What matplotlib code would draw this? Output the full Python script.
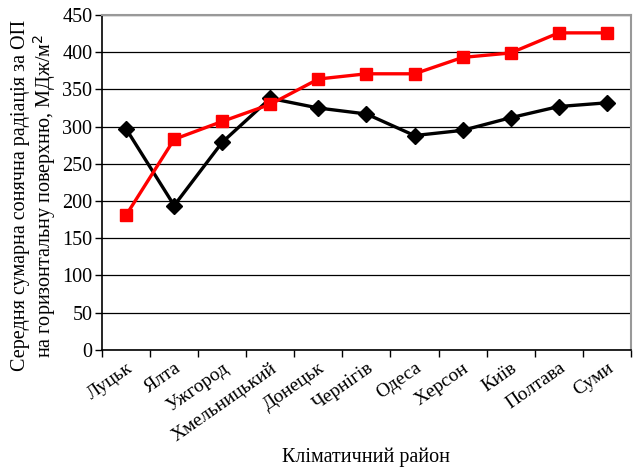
import matplotlib
matplotlib.use("Agg")
import matplotlib.pyplot as plt
import numpy as np

plt.rcParams['font.family'] = ['Liberation Serif', 'DejaVu Serif']

cities = ['Луцьк', 'Ялта', 'Ужгород', 'Хмельницький', 'Донецьк', 'Чернігів',
          'Одеса', 'Херсон', 'Київ', 'Полтава', 'Суми']
black_vals = [297, 194, 279, 338, 325, 317, 288, 295, 312, 327, 332]
red_vals = [181, 283, 307, 330, 364, 371, 371, 393, 399, 426, 426]
yticks = list(range(0, 451, 50))

fig = plt.figure(figsize=(6.34, 4.69), dpi=100)
ax = fig.add_axes([0.161, 0.254, 0.834, 0.714])

x = np.arange(len(cities))
ax.plot(x, black_vals, color='black', lw=2.4, marker='D', ms=8.5, zorder=3)
ax.plot(x, red_vals, color='#ff0000', lw=2.4, marker='s', ms=8.5, zorder=4)

ax.set_xlim(-0.5, len(cities) - 0.5)
ax.set_ylim(0, 450)
ax.set_yticks(yticks)
ax.yaxis.grid(True, color='black', lw=0.9)
ax.set_axisbelow(True)

# category labels at centres, tick marks on the boundaries
ax.set_xticks(x)
ax.set_xticklabels(cities, rotation=35, ha='right', rotation_mode='anchor', fontsize=14)
ax.tick_params(axis='x', which='major', length=0, pad=7)
ax.set_xticks(np.arange(-0.5, len(cities)), minor=True)
ax.tick_params(axis='x', which='minor', length=5, direction='out', width=1)
ax.tick_params(axis='y', length=5, direction='out', width=1, labelsize=14.5, pad=2)

for side in ['top', 'right']:
    ax.spines[side].set_color('#999999')
    ax.spines[side].set_linewidth(1.5)
for side in ['left', 'bottom']:
    ax.spines[side].set_linewidth(1.2)

ax.set_ylabel('Середня сумарна сонячна радіація за ОП\nна горизонтальну поверхню, МДж/м$^2$',
              fontsize=14.5, linespacing=1.05)
ax.yaxis.set_label_coords(-0.083, 0.46)
ax.set_xlabel('Кліматичний район', fontsize=14.5, labelpad=2)

fig.savefig('out.png', dpi=100)
